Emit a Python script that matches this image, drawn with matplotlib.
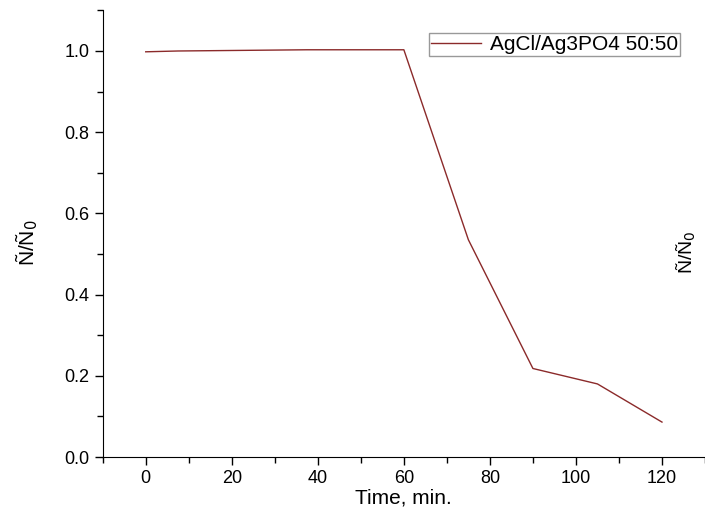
import numpy as np
import matplotlib.pyplot as plt
from matplotlib.ticker import MultipleLocator

# degradation data
time_min = [0, 7.5, 37.5, 60, 75, 90, 105, 120]
ratio = [0.998, 1.0, 1.003, 1.003, 0.535, 0.218, 0.180, 0.086]
series_label = 'AgCl/Ag3PO4 50:50'

plt.rcParams['font.family'] = ['Liberation Sans', 'DejaVu Sans']

fig = plt.figure(figsize=(7.05, 5.22), dpi=100)
ax = fig.add_axes([0.1457, 0.1245, 0.8543, 0.8556])

ax.plot(time_min, ratio, color='#8b2a2a', lw=1.0, label=series_label)

ax.set_xlim(-10, 130)
ax.set_ylim(0, 1.1)
ax.xaxis.set_major_locator(MultipleLocator(20))
ax.xaxis.set_minor_locator(MultipleLocator(10))
ax.yaxis.set_major_locator(MultipleLocator(0.2))
ax.yaxis.set_minor_locator(MultipleLocator(0.1))
ax.yaxis.set_major_formatter(plt.FormatStrFormatter('%.1f'))
ax.tick_params(which='major', direction='out', length=6, width=1, labelsize=13)
ax.tick_params(which='minor', direction='out', length=4, width=1)

for s in ['top', 'right']:
    ax.spines[s].set_visible(False)

ax.set_xlabel('Time, min.', fontsize=15, labelpad=1)
ax.set_ylabel(r'Ñ/Ñ$_0$', fontsize=15)
ax.yaxis.set_label_coords(-0.104, 0.48)
fig.text(0.974, 0.517, r'Ñ/Ñ$_0$', fontsize=14, rotation=90, ha='center', va='center')

leg = ax.legend(loc='upper right', bbox_to_anchor=(0.965, 0.959), fontsize=15,
                frameon=True, fancybox=False, handlelength=2.4, borderpad=0.1,
                handletextpad=0.4, borderaxespad=0.2)
leg.get_frame().set_edgecolor('#808080')
leg.get_frame().set_linewidth(1.0)

fig.savefig('out.png', dpi=100)
